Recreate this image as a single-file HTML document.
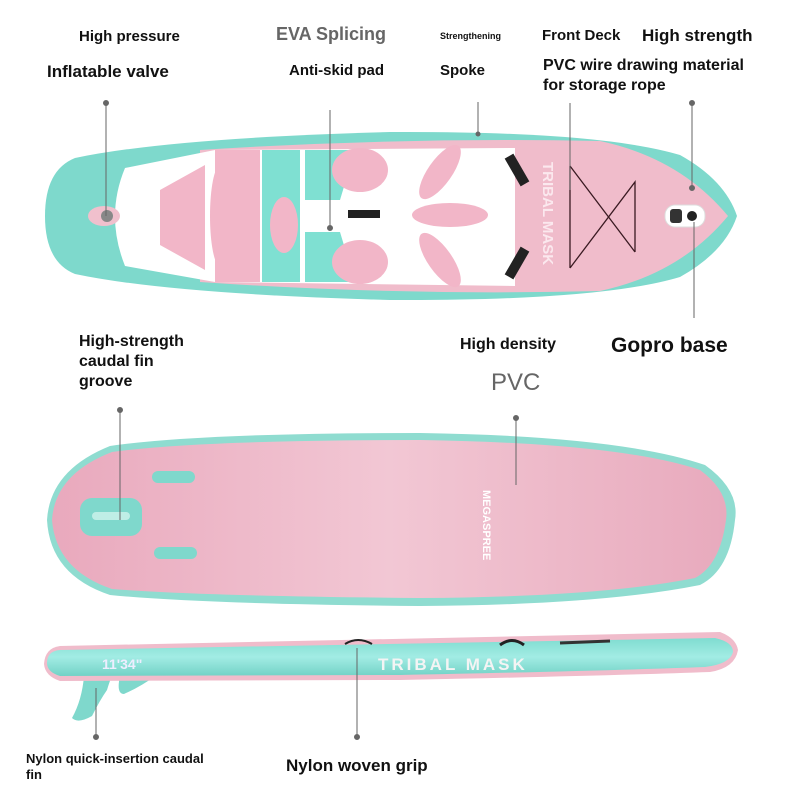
<!DOCTYPE html>
<html><head><meta charset="utf-8"><style>
body{margin:0;background:#fff}
svg{display:block}
text{font-family:"Liberation Sans",sans-serif;font-weight:bold;fill:#111}
</style></head><body>
<svg width="800" height="800" viewBox="0 0 800 800">
<defs>
<linearGradient id="pk" x1="0" y1="0" x2="1" y2="0"><stop offset="0" stop-color="#e9a9bd"/><stop offset="0.5" stop-color="#f2c7d4"/><stop offset="1" stop-color="#e8aabd"/></linearGradient>
<linearGradient id="tl" x1="0" y1="0" x2="0" y2="1"><stop offset="0" stop-color="#7fdcd0"/><stop offset="0.5" stop-color="#a2ece4"/><stop offset="1" stop-color="#72d2c6"/></linearGradient>
</defs>
<!-- Board 1 -->
<path d="M75,158 Q170,138 390,132 Q600,131 680,155 Q725,180 737,216 Q725,252 680,277 Q600,301 390,300 Q170,294 75,274 Q45,262 45,216 Q45,170 75,158Z" fill="#7ed9cc"/>
<path d="M200,150 Q400,137 600,141 Q680,158 728,216 Q680,274 600,291 Q400,296 200,282Z" fill="#f0bccb"/>
<path d="M125,168 L215,150 L515,148 L515,286 L215,282 L125,266 Q105,216 125,168Z" fill="#fff"/>
<path d="M160,190 L205,165 L205,270 L160,245Z" fill="#f2b6c8"/>
<path d="M215,150 L260,150 L260,282 L215,282Z" fill="#f2b6c8"/>
<path d="M262,150 L300,150 L300,282 L262,282Z" fill="#7fe0d2"/>
<ellipse cx="220" cy="216" rx="10" ry="50" fill="#f2b6c8"/>
<path d="M305,150 L355,150 L340,200 L305,200Z M305,232 L340,232 L355,282 L305,282Z" fill="#7fe0d2"/>
<ellipse cx="284" cy="225" rx="14" ry="28" fill="#f2b6c8"/>
<ellipse cx="360" cy="170" rx="28" ry="22" fill="#f2b6c8"/>
<ellipse cx="360" cy="262" rx="28" ry="22" fill="#f2b6c8"/>
<ellipse cx="440" cy="172" rx="12" ry="32" fill="#f2b6c8" transform="rotate(35 440 172)"/>
<ellipse cx="450" cy="215" rx="38" ry="12" fill="#f2b6c8"/>
<ellipse cx="440" cy="260" rx="12" ry="32" fill="#f2b6c8" transform="rotate(-35 440 260)"/>
<rect x="512" y="154" width="10" height="32" fill="#222" transform="rotate(-30 517 170)"/>
<rect x="512" y="247" width="10" height="32" fill="#222" transform="rotate(30 517 263)"/>
<rect x="348" y="210" width="32" height="8" fill="#222"/>
<text x="543" y="162" font-size="15" style="fill:#fbe8ee" transform="rotate(90 543 162)">TRIBAL MASK</text>
<path d="M570,166 L635,252 M570,268 L635,182 L635,252 M570,166 L570,268" stroke="#3a1a22" stroke-width="1.3" fill="none"/>
<rect x="665" y="205" width="40" height="22" rx="10" fill="#fff" stroke="#ddd"/>
<rect x="670" y="209" width="12" height="14" rx="3" fill="#333"/>
<circle cx="692" cy="216" r="5" fill="#222"/>
<ellipse cx="104" cy="216" rx="16" ry="10" fill="#f0c0cd"/>
<circle cx="107" cy="216" r="6" fill="#888"/>
<!-- Board 2 -->
<path d="M47,520 Q50,470 110,446 Q200,433 420,433 Q620,436 705,465 Q740,490 735,520 Q730,570 700,585 Q600,605 420,606 Q200,604 110,595 Q50,575 47,520Z" fill="#8fdcd0"/>
<path d="M52,520 Q55,474 112,452 Q200,440 420,440 Q620,443 700,470 Q730,492 726,520 Q720,565 695,578 Q600,597 420,598 Q200,596 112,589 Q56,570 52,520Z" fill="url(#pk)"/>
<rect x="80" y="498" width="62" height="38" rx="12" fill="#7fd8cc"/>
<rect x="92" y="512" width="38" height="8" rx="4" fill="#bfeee6"/>
<rect x="152" y="471" width="43" height="12" rx="6" fill="#7fd8cc"/>
<rect x="154" y="547" width="43" height="12" rx="6" fill="#7fd8cc"/>
<text x="483" y="490" font-size="11" style="fill:#fff" transform="rotate(90 483 490)">MEGASPREE</text>
<!-- Board 3 -->
<path d="M84,676 Q82,700 72,718 Q78,724 92,716 Q100,700 107,690 Q110,680 112,676Z" fill="#7fd8cc"/>
<path d="M120,676 Q116,694 124,694 Q142,686 155,676Z" fill="#7fd8cc"/>
<path d="M60,646 L720,632 Q736,638 738,650 Q735,668 710,672 Q600,676 400,680 L60,681 Q45,676 44,664 Q45,648 60,646Z" fill="#f0bccb"/>
<path d="M60,650 L715,638 Q733,642 733,652 Q730,664 705,667 Q600,671 400,675 L60,676 Q47,672 47,663 Q47,651 60,650Z" fill="url(#tl)"/>
<text x="102" y="669" font-size="14" style="fill:#eef">11'34"</text>
<text x="378" y="670" font-size="17" letter-spacing="3" style="fill:#f4f4f4">TRIBAL MASK</text>
<path d="M345,644 Q358,636 372,644" stroke="#222" stroke-width="2" fill="none"/>
<path d="M500,645 Q512,636 524,645" stroke="#222" stroke-width="3" fill="none"/>
<path d="M560,643 L610,641" stroke="#333" stroke-width="3"/>
<!-- leader lines -->
<g stroke="#666" stroke-width="1" fill="#666">
<line x1="106" y1="103" x2="106" y2="216"/><circle cx="106" cy="103" r="2.5"/>
<line x1="330" y1="110" x2="330" y2="228"/><circle cx="330" cy="228" r="2.5"/>
<line x1="478" y1="102" x2="478" y2="134"/><circle cx="478" cy="134" r="2"/>
<line x1="570" y1="103" x2="570" y2="190"/>
<line x1="692" y1="103" x2="692" y2="188"/><circle cx="692" cy="103" r="2.5"/><circle cx="692" cy="188" r="2.5"/>
<line x1="694" y1="222" x2="694" y2="318"/>
<line x1="120" y1="410" x2="120" y2="520"/><circle cx="120" cy="410" r="2.5"/>
<line x1="516" y1="418" x2="516" y2="485"/><circle cx="516" cy="418" r="2.5"/>
<line x1="96" y1="688" x2="96" y2="737"/><circle cx="96" cy="737" r="2.5"/>
<line x1="357" y1="648" x2="357" y2="737"/><circle cx="357" cy="737" r="2.5"/>
</g>
<!-- labels -->
<text x="79" y="41" font-size="15">High pressure</text>
<text x="47" y="77" font-size="17">Inflatable valve</text>
<text x="276" y="40" font-size="18" style="fill:#666;font-weight:bold">EVA Splicing</text>
<text x="289" y="75" font-size="15">Anti-skid pad</text>
<text x="440" y="39" font-size="9">Strengthening</text>
<text x="440" y="75" font-size="15">Spoke</text>
<text x="542" y="40" font-size="15">Front Deck</text>
<text x="642" y="41" font-size="17">High strength</text>
<text x="543" y="70" font-size="16">PVC wire drawing material</text>
<text x="543" y="90" font-size="16">for storage rope</text>
<text x="79" y="346" font-size="16">High-strength</text>
<text x="79" y="366" font-size="16">caudal fin</text>
<text x="79" y="386" font-size="16">groove</text>
<text x="460" y="349" font-size="16">High density</text>
<text x="611" y="352" font-size="21">Gopro base</text>
<text x="491" y="390" font-size="24" style="font-weight:normal;fill:#666">PVC</text>
<text x="26" y="763" font-size="13">Nylon quick-insertion caudal</text>
<text x="26" y="779" font-size="13">fin</text>
<text x="286" y="771" font-size="17">Nylon woven grip</text>
</svg>
</body></html>
